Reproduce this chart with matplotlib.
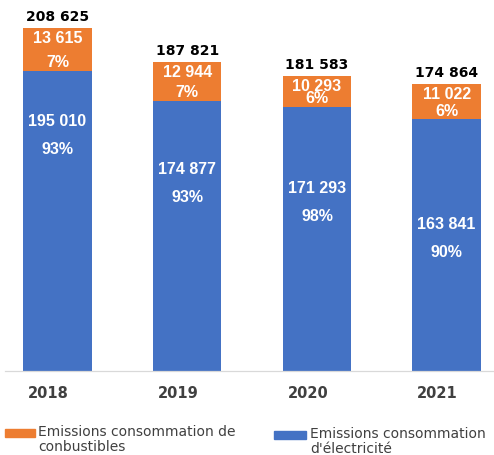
import matplotlib
matplotlib.use("Agg")
import matplotlib.pyplot as plt
from matplotlib.patches import Rectangle

# ---- data ----
years = ["2018", "2019", "2020", "2021"]
# segment heights as drawn in the picture
elec_drawn = [182600, 164200, 160700, 153200]
fuel_drawn = [26100, 23900, 18800, 21500]
# labels printed on the chart
total_labels = ["208 625", "187 821", "181 583", "174 864"]
fuel_labels = ["13 615", "12 944", "10 293", "11 022"]
fuel_pct = ["7%", "7%", "6%", "6%"]
elec_labels = ["195 010", "174 877", "171 293", "163 841"]
elec_pct = ["93%", "93%", "98%", "90%"]
legend_fuel = "Emissions consommation de\nconbustibles"
legend_elec = "Emissions consommation\nd'électricité"

# ---- layout ----
elec_label_frac = [0.832, 0.748, 0.689, 0.583]
ORANGE = "#ED7D31"
BLUE = "#4472C4"
W, H = 494, 455

fig = plt.figure(figsize=(W / 100, H / 100), dpi=100)
ax = fig.add_axes([5 / W, (H - 371) / H, 1 - 5 / W, 371 / H])
x = list(range(len(years)))
ax.bar(x, elec_drawn, width=0.528, color=BLUE)
ax.bar(x, fuel_drawn, bottom=elec_drawn, width=0.528, color=ORANGE)
ax.set_xlim(-0.405, 3.365)
ax.set_ylim(0, 225600)
for s in ["top", "left", "right"]:
    ax.spines[s].set_visible(False)
ax.spines["bottom"].set_color("#D9D9D9")
ax.spines["bottom"].set_linewidth(0.9)
ax.set_xticks([])
ax.set_yticks([])

lab = dict(textcoords="offset pixels", ha="center", va="center",
           color="white", family="Liberation Sans", fontweight="bold",
           fontsize=11.5)
for i in x:
    top = elec_drawn[i] + fuel_drawn[i]
    ax.annotate(total_labels[i], (i, top), xytext=(0, 11), textcoords="offset pixels",
                ha="center", va="center", fontsize=10, fontweight="bold",
                family="DejaVu Sans", color="black")
    ax.annotate(fuel_labels[i], (i, top), xytext=(0, -11), **lab)
    ax.annotate(fuel_pct[i], (i, elec_drawn[i]), xytext=(0, 8), **lab)
    yv = elec_drawn[i] * elec_label_frac[i]
    ax.annotate(elec_labels[i], (i, yv), xytext=(0, 0), **lab)
    ax.annotate(elec_pct[i], (i, yv), xytext=(0, -28), **lab)
    ax.annotate(years[i], (i, 0), xytext=(-9, -22), textcoords="offset pixels",
                ha="center", va="center", fontsize=10.5, fontweight="bold",
                family="DejaVu Sans", color="#404040", annotation_clip=False)

# ---- legend ----
fig.patches.append(Rectangle((5 / W, (H - 437) / H), 30 / W, 8 / H,
                             transform=fig.transFigure, color=ORANGE))
fig.patches.append(Rectangle((274 / W, (H - 439) / H), 32 / W, 8 / H,
                             transform=fig.transFigure, color=BLUE))
fig.text(38 / W, (H - 439.5) / H, legend_fuel, ha="left", va="center",
         fontsize=10, color="#404040", linespacing=1.1, family="DejaVu Sans")
fig.text(310 / W, (H - 441.5) / H, legend_elec, ha="left", va="center",
         fontsize=10, color="#404040", linespacing=1.1, family="DejaVu Sans")

fig.savefig("out.png", dpi=100)
